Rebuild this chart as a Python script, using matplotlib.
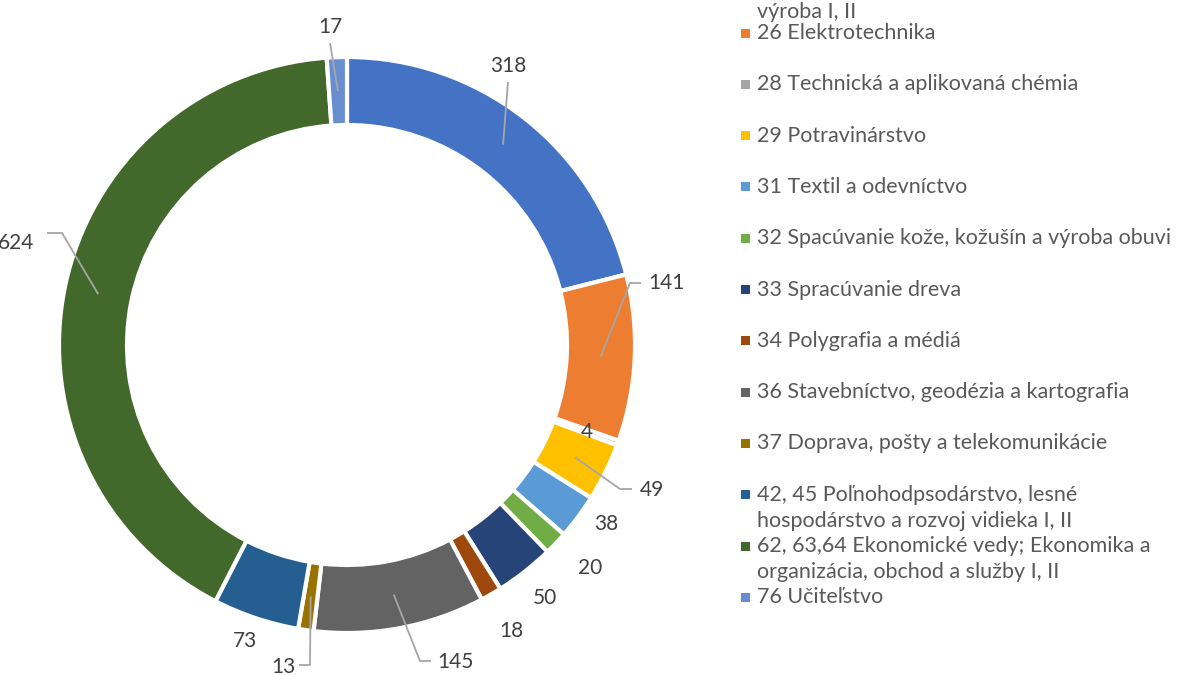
import matplotlib.pyplot as plt
from matplotlib.patches import Rectangle
import numpy as np

plt.rcParams["font.family"] = ["Lato", "DejaVu Sans"]

# ── Data ──────────────────────────────────────────────────────────────────────
categories = [
    "23, 24 Strojárstvo a ostatná kovospracujúca\nvýroba I, II",
    "26 Elektrotechnika",
    "28 Technická a aplikovaná chémia",
    "29 Potravinárstvo",
    "31 Textil a odevníctvo",
    "32 Spacúvanie kože, kožušín a výroba obuvi",
    "33 Spracúvanie dreva",
    "34 Polygrafia a médiá",
    "36 Stavebníctvo, geodézia a kartografia",
    "37 Doprava, pošty a telekomunikácie",
    "42, 45 Poľnohodpsodárstvo, lesné\nhospodárstvo a rozvoj vidieka I, II",
    "62, 63,64 Ekonomické vedy; Ekonomika a\norganizácia, obchod a služby I, II",
    "76 Učiteľstvo",
]
values = [318, 141, 4, 49, 38, 20, 50, 18, 145, 13, 73, 624, 17]
colors = ["#4472C4", "#ED7D31", "#A5A5A5", "#FFC000", "#5B9BD5", "#70AD47",
          "#264478", "#9E480E", "#636363", "#997300", "#255E91", "#43682B",
          "#698ED0"]

# ── Layout (pixels, origin top-left) ─────────────────────────────────────────
W, H = 1184, 675
CX, CY, R, RING = 347, 345, 288, 68

label_xy = [(508, 66), (666, 283), (587, 432), (652, 490), (606, 524),
            (590, 568), (545, 598), (511, 631), (455, 662), (283, 667),
            (245, 641), (16, 243), (330, 27)]
# leader lines: elbow point and end point (only some labels have one)
leaders = {0: ((508, 82), (508, 82)), 1: ((630, 283), (641, 283)),
           3: ((620, 489), (632, 489)), 8: ((420, 661), (431, 661)),
           9: ((310, 665), (299, 665)), 11: ((62, 233), (47, 233)),
           12: ((330, 43), (330, 43))}

fig = plt.figure(figsize=(W / 100, H / 100), dpi=100)
ax = fig.add_axes([0, 0, 1, 1])

wedges, _ = ax.pie(values, colors=colors, startangle=90, counterclock=False,
                   center=(CX, H - CY), radius=R,
                   wedgeprops=dict(width=RING, edgecolor="white", linewidth=3))
ax.set_xlim(0, W)
ax.set_ylim(0, H)
ax.set_aspect("equal")
ax.axis("off")

for i, w in enumerate(wedges):
    ang = np.deg2rad((w.theta1 + w.theta2) / 2)
    r_mid = R - RING / 2
    ax_x = CX + r_mid * np.cos(ang)
    ax_y = (H - CY) + r_mid * np.sin(ang)
    lx, ly = label_xy[i]
    ax.text(lx, H - ly, str(values[i]), ha="center", va="center",
            fontsize=15, color="#404040")
    if i in leaders:
        (ex, ey), (tx, ty) = leaders[i]
        ax.plot([ax_x, ex, tx], [ax_y, H - ey, H - ty], color="#A6A6A6",
                lw=1.3, solid_capstyle="butt")

# ── Leyenda ───────────────────────────────────────────────────────────────────
step, line_h = 51.3, 26
rows = 33 + (np.arange(len(categories)) - 1) * step
rows[0] = 12 - line_h   # primera entrada cortada arriba, como en el original
for i, cat in enumerate(categories):
    y = rows[i]
    ax.add_patch(Rectangle((741, H - y - 4.5), 9, 9, color=colors[i], lw=0))
    for k, line in enumerate(cat.split("\n")):
        ax.text(757, H - (y + k * line_h), line, ha="left", va="center",
                fontsize=15.5, color="#595959")

fig.savefig("out.png", dpi=100)
